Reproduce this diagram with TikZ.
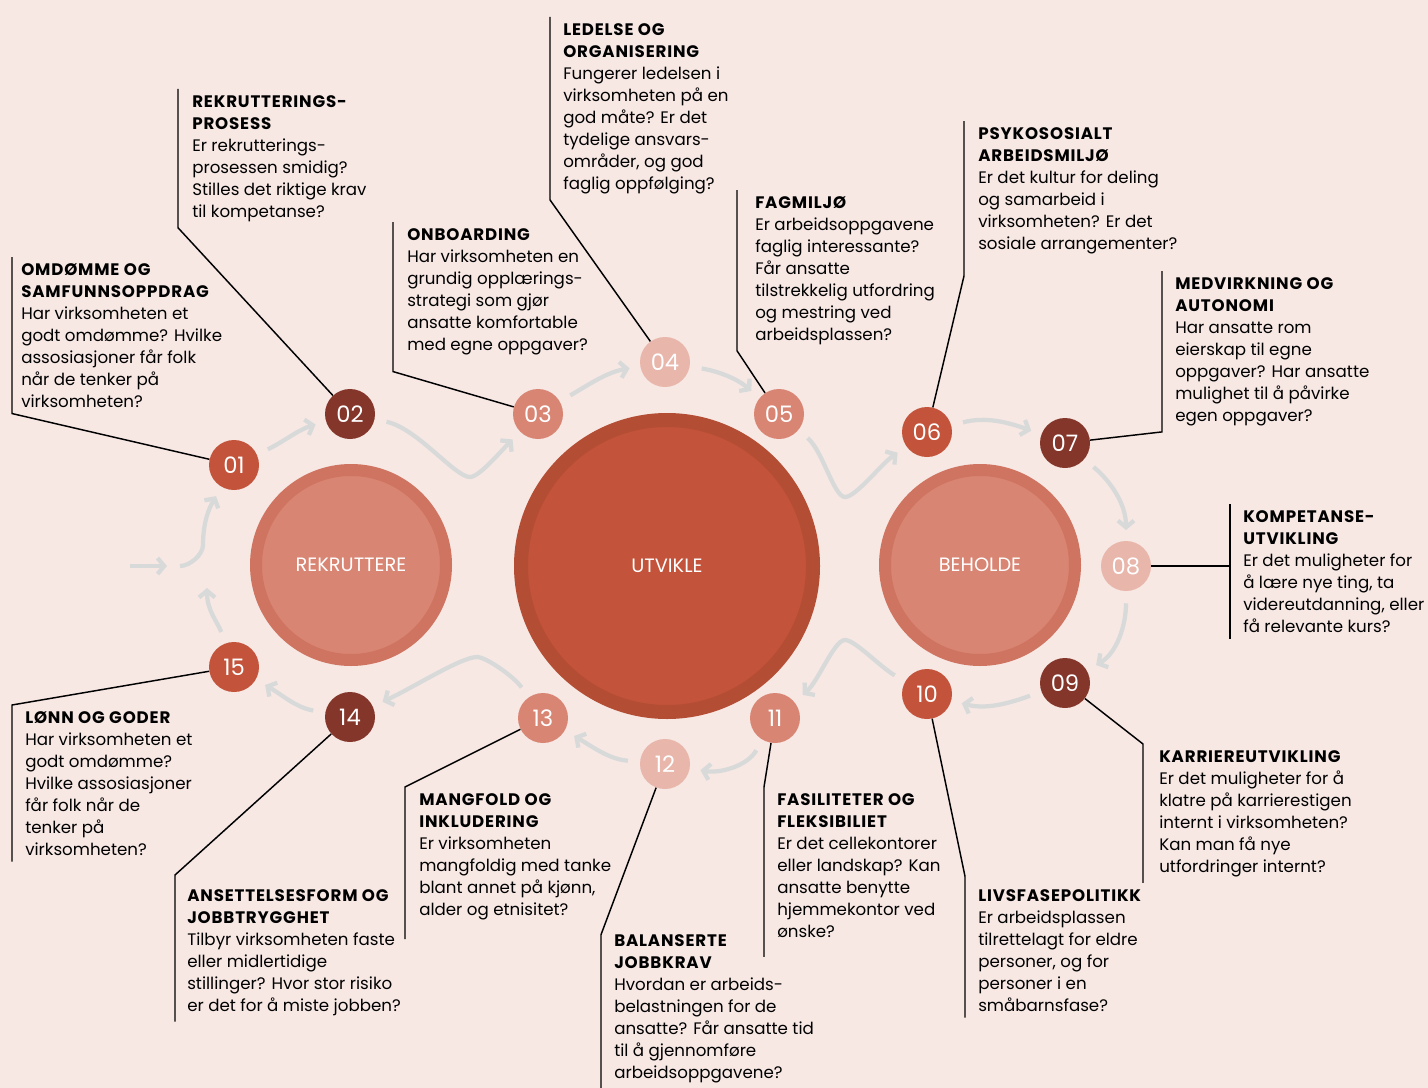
\documentclass[tikz,border=0pt]{standalone}
\usepackage{fontspec}
\setmainfont{Poppins}
\newfontfamily\headfont[LetterSpace=5]{Poppins}
\usetikzlibrary{arrows.meta}

\definecolor{paper}{HTML}{F7E8E4}
\definecolor{darkred}{HTML}{84362A}
\definecolor{midred}{HTML}{C3533A}
\definecolor{salmon}{HTML}{D98574}
\definecolor{blush}{HTML}{E8B6AA}
\definecolor{ringsalmon}{HTML}{CF7461}
\definecolor{ringred}{HTML}{B34D34}
\definecolor{flowgray}{HTML}{D8DADA}

\newcommand\hd[1]{{\headfont\bfseries\fontsize{12.5}{16.5}\selectfont #1}}

\begin{document}
\begin{tikzpicture}[x=0.75pt, y=-0.75pt,
    num/.style={circle, minimum size=37.5pt, inner sep=0pt, text=white, font=\fontsize{17}{17}\selectfont},
    hub/.style={circle, minimum size=142.5pt, inner sep=0pt, line width=9pt, draw=ringsalmon, fill=salmon, text=white, font=\fontsize{14.5}{14.5}\selectfont},
    flow/.style={draw=flowgray, line width=3.2pt, -{Straight Barb[length=5pt,width=12pt]}, shorten <=9pt, shorten >=8pt},
    lead/.style={draw=black, line width=1.1pt},
    info/.style={anchor=north west, align=left, inner xsep=9.75pt, inner ysep=4.5pt, font=\fontsize{12.5}{16.5}\selectfont}]

    \fill[paper] (0,0) rectangle (1428,1088);
    \useasboundingbox (0,0) rectangle (1428,1088);

    % the three phases
    \node (rekr) [hub] at (351,565) {REKRUTTERE};
    \node (utv) [hub, minimum size=219pt, line width=10.5pt, draw=ringred, fill=midred] at (667,566) {UTVIKLE};
    \node (beh) [hub] at (980,565) {BEHOLDE};

    % numbered steps
    \node (n01) [num, fill=midred] at (234,465) {01};
    \node (n02) [num, fill=darkred] at (350,414) {02};
    \node (n03) [num, fill=salmon] at (538,414) {03};
    \node (n04) [num, fill=blush] at (665,362) {04};
    \node (n05) [num, fill=salmon] at (779,414) {05};
    \node (n06) [num, fill=midred] at (927,432) {06};
    \node (n07) [num, fill=darkred] at (1065,443) {07};
    \node (n08) [num, fill=blush] at (1126,566) {08};
    \node (n09) [num, fill=darkred] at (1065,683) {09};
    \node (n10) [num, fill=midred] at (927,694) {10};
    \node (n11) [num, fill=salmon] at (775,718) {11};
    \node (n12) [num, fill=blush] at (665,764) {12};
    \node (n13) [num, fill=salmon] at (543,718) {13};
    \node (n14) [num, fill=darkred] at (350,717) {14};
    \node (n15) [num, fill=midred] at (234,667) {15};

    % texts
    \node (t01) [info, inner xsep=6.75pt] at (12,257) {\hd{OMDØMME OG}\\\hd{SAMFUNNSOPPDRAG}\\Har virksomheten et\\godt omdømme? Hvilke\\assosiasjoner får folk\\når de tenker på\\virksomheten?};
    \node (t02) [info, inner xsep=10.5pt] at (178,89) {\hd{REKRUTTERINGS-}\\\hd{PROSESS}\\Er rekrutterings-\\prosessen smidig?\\Stilles det riktige krav\\til kompetanse?};
    \node (t03) [info, inner xsep=10.5pt] at (393,222) {\hd{ONBOARDING}\\Har virksomheten en\\grundig opplærings-\\strategi som gjør\\ansatte komfortable\\med egne oppgaver?};
    \node (t04) [info] at (550,17) {\hd{LEDELSE OG}\\\hd{ORGANISERING}\\Fungerer ledelsen i\\virksomheten på en\\god måte? Er det\\tydelige ansvars-\\områder, og god\\faglig oppfølging?};
    \node (t05) [info, inner xsep=13.5pt] at (737,190) {\hd{FAGMILJØ}\\Er arbeidsoppgavene\\faglig interessante?\\Får ansatte\\tilstrekkelig utfordring\\og mestring ved\\arbeidsplassen?};
    \node (t06) [info, inner xsep=10.5pt] at (964,121) {\hd{PSYKOSOSIALT}\\\hd{ARBEIDSMILJØ}\\Er det kultur for deling\\og samarbeid i\\virksomheten? Er det\\sosiale arrangementer?};
    \node (t07) [info] at (1162,271) {\hd{MEDVIRKNING OG}\\\hd{AUTONOMI}\\Har ansatte rom\\eierskap til egne\\oppgaver? Har ansatte\\mulighet til å påvirke\\egen oppgaver?};
    \node (t08) [info] at (1230,504) {\hd{KOMPETANSE-}\\\hd{UTVIKLING}\\Er det muligheter for\\å lære nye ting, ta\\videreutdanning, eller\\få relevante kurs?};
    \node (t09) [info, inner xsep=12pt] at (1143,744) {\hd{KARRIEREUTVIKLING}\\Er det muligheter for å\\klatre på karrierestigen\\internt i virksomheten?\\Kan man få nye\\utfordringer internt?};
    \node (t10) [info] at (965,883) {\hd{LIVSFASEPOLITIKK}\\Er arbeidsplassen\\tilrettelagt for eldre\\personer, og for\\personer i en\\småbarnsfase?};
    \node (t11) [info] at (764,787) {\hd{FASILITETER OG}\\\hd{FLEKSIBILIET}\\Er det cellekontorer\\eller landskap? Kan\\ansatte benytte\\hjemmekontor ved\\ønske?};
    \node (t12) [info] at (601,928) {\hd{BALANSERTE}\\\hd{JOBBKRAV}\\Hvordan er arbeids-\\belastningen for de\\ansatte? Får ansatte tid\\til å gjennomføre\\arbeidsoppgavene?};
    \node (t13) [info, inner xsep=10.5pt] at (405,787) {\hd{MANGFOLD OG}\\\hd{INKLUDERING}\\Er virksomheten\\mangfoldig med tanke\\blant annet på kjønn,\\alder og etnisitet?};
    \node (t14) [info, inner xsep=9pt] at (175,883) {\hd{ANSETTELSESFORM OG}\\\hd{JOBBTRYGGHET}\\Tilbyr virksomheten faste\\eller midlertidige\\stillinger? Hvor stor risiko\\er det for å miste jobben?};
    \node (t15) [info] at (12,705) {\hd{LØNN OG GODER}\\Har virksomheten et\\godt omdømme?\\Hvilke assosiasjoner\\får folk når de\\tenker på\\virksomheten?};

    % leader lines
    \draw[lead] (n01) -- (t01.south west) -- (t01.north west);
    \draw[lead] (n02) -- (t02.south west) -- (t02.north west);
    \draw[lead] (n03) -- ([yshift=-8pt]t03.south west) -- (t03.north west);
    \draw[lead] (n04) -- (t04.south west) -- (t04.north west);
    \draw[lead] (n05) -- (t05.south west) -- (t05.north west);
    \draw[lead] (n06) -- ([yshift=-12pt]t06.south west) -- (t06.north west);
    \draw[lead] (n07) -- (t07.south west) -- (t07.north west);
    \draw[lead] (n08) -- (n08 -| t08.west);
    \draw[lead] (t08.north west) -- (t08.south west);
    \draw[lead] (n09) -- (t09.north west) -- (t09.south west);
    \draw[lead] (n10) -- ([yshift=5pt]t10.north west) -- (t10.south west);
    \draw[lead] (n11) -- (t11.north west) -- ([yshift=-10pt]t11.south west);
    \draw[lead] (n12) -- ([yshift=-5pt]t12.north west) -- ([yshift=-10pt]t12.south west);
    \draw[lead] (n13) -- (t13.north west) -- ([yshift=-10pt]t13.south west);
    \draw[lead] (n14) -- ([yshift=6pt]t14.north west) -- (t14.south west);
    \draw[lead] (n15) -- (t15.north west) -- (t15.south west);

    % flow between the steps
    \coordinate (entry) at (130,566);
    \coordinate (entrytip) at (167,566);
    \coordinate (fork) at (180,566);
    \coordinate (forkbend) at (203,545);
    \coordinate (join) at (207,588);
    \coordinate (dip23) at (470,477);
    \coordinate (dip56) at (845,497);
    \coordinate (peak1011) at (845,640);
    \coordinate (peak1314) at (477,657);

    \draw[flow, shorten <=0pt, shorten >=0pt] (entry) -- (entrytip);
    \draw[flow, shorten <=0pt] (fork) to[out=0,in=-90,looseness=0.8] (forkbend) to[out=90,in=-120] (n01);
    \draw[flow] (n01) to[out=25,in=197] (n02);
    \draw[flow] (n02) to[out=-12,in=180,in looseness=0.35] (dip23) to[out=0,in=-135,out looseness=0.35] (n03);
    \draw[flow] (n03) to[out=30,in=190] (n04);
    \draw[flow] (n04) to[out=-10,in=140] (n05);
    \draw[flow] (n05) to[out=-40,in=180,in looseness=0.35] (dip56) to[out=0,in=-145,out looseness=0.35] (n06);
    \draw[flow] (n06) to[out=15,in=160] (n07);
    \draw[flow] (n07) to[out=-40,in=90] (n08);
    \draw[flow] (n08) to[out=-90,in=30] (n09);
    \draw[flow] (n09) to[out=-160,in=-15] (n10);
    \draw[flow] (n10) to[out=150,in=0,in looseness=0.35] (peak1011) to[out=180,in=40,out looseness=0.35] (n11);
    \draw[flow] (n11) to[out=-120,in=-10] (n12);
    \draw[flow] (n12) to[out=175,in=-30] (n13);
    \draw[flow] (n13) to[out=125,in=0,in looseness=0.35] (peak1314) to[out=180,in=25,out looseness=0.35] (n14);
    \draw[flow] (n14) to[out=170,in=-30] (n15);
    \draw[flow, shorten >=0pt] (n15) to[out=110,in=-90] (join);
\end{tikzpicture}
\end{document}
